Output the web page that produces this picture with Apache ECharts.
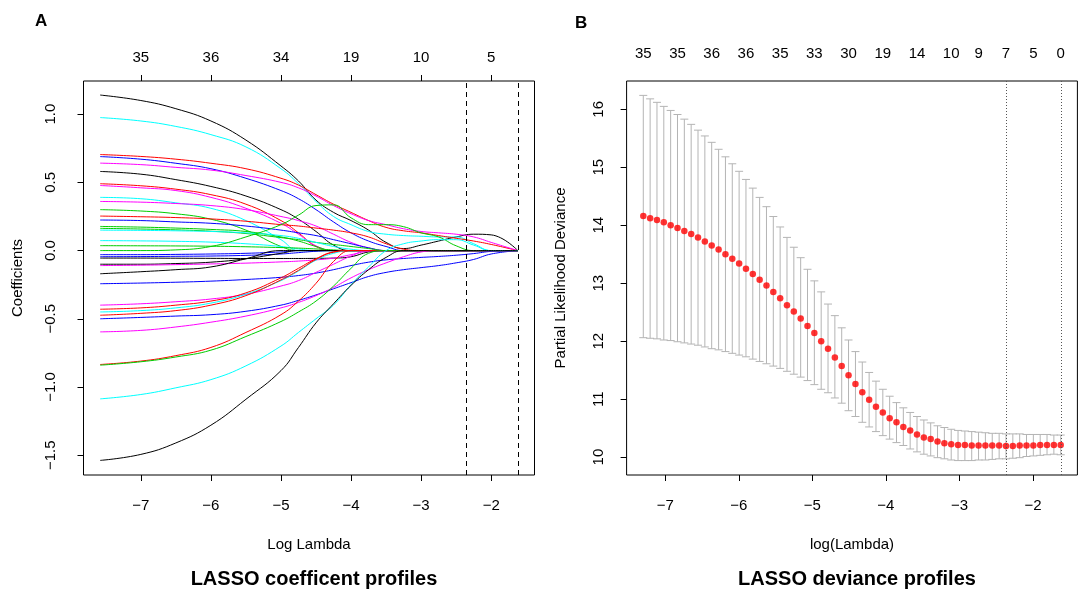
<!DOCTYPE html>
<html><head><meta charset="utf-8">
<script src="https://cdn.jsdelivr.net/npm/echarts@6/dist/echarts.min.js"></script>
<style>html,body{margin:0;padding:0;background:#fff}#c{width:1080px;height:599px}</style>
</head><body><div id="c"></div>
<script>
// ---------- Panel A: coefficient paths ----------
const coefKnots = [-7.58,-7,-6.5,-6,-5.5,-5,-4.75,-4.5,-4.25,-4,-3.75,-3.5,-3.25,-3,-2.75,-2.5,-2.25,-2,-1.62];
const coefColors = ['#000000','#00FFFF','#FF0000','#0000FF','#FF00FF','#000000','#FF0000','#FF00FF','#00FFFF','#FF00FF',
  '#00CD00','#FF0000','#0000FF','#00CD00','#00CD00','#00FFFF','#00FFFF','#00CD00','#00CD00','#0000FF',
  '#0000FF','#000000','#000000','#FF00FF','#000000','#0000FF','#0000FF','#FF00FF','#FF0000','#00FFFF',
  '#FF0000','#FF00FF','#FF0000','#00CD00','#00FFFF','#000000'];
const coefPaths = [
  [1.14,1.10,1.04,0.95,0.81,0.62,0.51,0.37,0.28,0.22,0.15,0.06,0.015,0.04,0.07,0.10,0.12,0.115,0],
  [0.975,0.95,0.91,0.85,0.76,0.60,0.49,0.36,0.25,0.19,0.14,0.12,0.11,0.105,0.10,0.10,0.05,0,0],
  [0.704,0.69,0.67,0.64,0.60,0.53,0.48,0.41,0.34,0.28,0.22,0.17,0.145,0.13,0.11,0.09,0.07,0.045,0],
  [0.689,0.67,0.64,0.60,0.53,0.44,0.38,0.30,0.21,0.13,0.07,0.03,0,0,0,0,0,0,0],
  [0.641,0.63,0.61,0.59,0.55,0.50,0.46,0.40,0.33,0.27,0.22,0.19,0.16,0.14,0.13,0.12,0.10,0.06,0],
  [0.58,0.56,0.52,0.47,0.40,0.30,0.23,0.14,0.04,0,0,0,0,0,0,0,0,0,0],
  [0.49,0.475,0.45,0.41,0.34,0.22,0.13,0.03,0,0,0,0,0,0,0,0,0,0,0],
  [0.477,0.46,0.44,0.39,0.31,0.20,0.12,0.035,0,0,0,0,0,0,0,0,0,0,0],
  [0.39,0.38,0.35,0.31,0.22,0.08,0,0,0,0,0,0,0,0,0,0,0,0,0],
  [0.36,0.355,0.345,0.33,0.30,0.25,0.22,0.18,0.12,0.06,0.02,0,0,0,0,0,0,0,0],
  [0.30,0.29,0.27,0.23,0.15,0.03,0,0,0,0,0,0,0,0,0,0,0,0,0],
  [0.253,0.248,0.242,0.232,0.215,0.19,0.18,0.165,0.15,0.13,0.10,0.05,0.01,0,0,0,0,0,0],
  [0.224,0.22,0.21,0.20,0.18,0.15,0.13,0.11,0.08,0.05,0.02,0,0,0,0,0,0,0,0],
  [0.177,0.172,0.165,0.155,0.14,0.10,0.07,0.03,0,0,0,0,0,0,0,0,0,0,0],
  [0.163,0.158,0.152,0.142,0.125,0.095,0.08,0.06,0.045,0.03,0.015,0,0,0,0,0,0,0,0],
  [0.15,0.148,0.145,0.14,0.13,0.11,0.09,0.06,0.03,0.01,0,0,0,0,0,0,0,0,0],
  [0.073,0.071,0.068,0.062,0.05,0.03,0.012,0,0,0,0,0,0,0,0,0,0,0,0],
  [0,0,0.005,0.03,0.10,0.19,0.26,0.33,0.335,0.24,0.19,0.19,0.175,0.13,0.10,0.035,0,0,0],
  [0.036,0.035,0.034,0.032,0.028,0.022,0.018,0.012,0.005,0,0,0,0,0,0,0,0,0,0],
  [-0.03,-0.03,-0.028,-0.025,-0.02,-0.01,0,0,0,0,0,0,0,0,0,0,0,0,0],
  [-0.045,-0.044,-0.042,-0.04,-0.035,-0.025,-0.015,-0.005,0,0,0,0,0,0,0,0,0,0,0],
  [-0.055,-0.055,-0.056,-0.057,-0.058,-0.058,-0.058,-0.057,-0.055,-0.045,-0.01,0,0,0,0,0,0,0,0],
  [-0.10,-0.10,-0.095,-0.085,-0.06,-0.02,0,0,0,0,0,0,0,0,0,0,0,0,0],
  [-0.11,-0.107,-0.103,-0.098,-0.092,-0.083,-0.077,-0.068,-0.055,-0.03,-0.005,0,0,0,0,0,0,0,0],
  [-0.17,-0.155,-0.14,-0.12,-0.06,0,0,0,0,0,0,0,0,0,0,0,0,0,0],
  [-0.243,-0.238,-0.232,-0.224,-0.212,-0.196,-0.183,-0.165,-0.14,-0.11,-0.085,-0.068,-0.058,-0.05,-0.043,-0.034,-0.022,-0.006,0],
  [-0.50,-0.49,-0.48,-0.47,-0.445,-0.40,-0.365,-0.325,-0.28,-0.235,-0.19,-0.16,-0.14,-0.125,-0.11,-0.09,-0.065,-0.025,0],
  [-0.40,-0.39,-0.375,-0.355,-0.32,-0.26,-0.22,-0.16,-0.10,-0.04,0,0,0,0,0,0,0,0,0],
  [-0.43,-0.42,-0.40,-0.37,-0.31,-0.20,-0.13,-0.06,-0.01,0,0,0,0,0,0,0,0,0,0],
  [-0.45,-0.44,-0.42,-0.385,-0.32,-0.22,-0.15,-0.07,-0.02,0,0,0,0,0,0,0,0,0,0],
  [-0.474,-0.46,-0.44,-0.40,-0.33,-0.215,-0.145,-0.065,-0.012,0,0,0,0,0,0,0,0,0,0],
  [-0.596,-0.585,-0.56,-0.525,-0.48,-0.42,-0.38,-0.33,-0.27,-0.20,-0.14,-0.09,-0.045,-0.01,0,0,0,0,0],
  [-0.835,-0.81,-0.77,-0.71,-0.60,-0.47,-0.37,-0.24,-0.08,0,0,0,0,0,0,0,0,0,0],
  [-0.84,-0.815,-0.78,-0.73,-0.63,-0.52,-0.45,-0.37,-0.26,-0.13,-0.02,0,0,0,0,0,0,0,0],
  [-1.087,-1.055,-1.006,-0.946,-0.845,-0.70,-0.60,-0.50,-0.40,-0.25,-0.12,0.0,0.05,0.07,0.08,0.08,0.04,0,0],
  [-1.538,-1.494,-1.41,-1.28,-1.09,-0.88,-0.71,-0.53,-0.39,-0.255,-0.14,-0.05,0,0,0,0,0,0,0]
];
const xTicksA = [-7,-6,-5,-4,-3,-2];
const topNzA = ['35','36','34','19','10','5'];
const yTicksA = [-1.5,-1,-0.5,0,0.5,1];
const cutoffsA = [-2.36,-1.62];

// ---------- Panel B: cross-validation deviance ----------
const logLambdaB = [-7.299,-7.206,-7.113,-7.020,-6.927,-6.834,-6.741,-6.648,-6.555,-6.462,
  -6.369,-6.275,-6.182,-6.089,-5.996,-5.903,-5.810,-5.717,-5.624,-5.531,
  -5.438,-5.345,-5.252,-5.159,-5.066,-4.973,-4.880,-4.787,-4.694,-4.601,
  -4.508,-4.414,-4.321,-4.228,-4.135,-4.042,-3.949,-3.856,-3.763,-3.670,
  -3.577,-3.484,-3.391,-3.298,-3.205,-3.112,-3.019,-2.926,-2.833,-2.740,
  -2.647,-2.554,-2.460,-2.367,-2.274,-2.181,-2.088,-1.995,-1.902,-1.809,
  -1.716,-1.623];
const devMean = [14.16,14.12,14.09,14.05,14.00,13.95,13.90,13.85,13.79,13.72,
  13.65,13.58,13.50,13.42,13.34,13.25,13.16,13.06,12.96,12.85,
  12.74,12.62,12.51,12.39,12.26,12.14,12.00,11.87,11.72,11.57,
  11.41,11.26,11.12,10.99,10.87,10.77,10.67,10.60,10.52,10.46,
  10.39,10.34,10.31,10.27,10.24,10.22,10.21,10.21,10.20,10.20,
  10.20,10.20,10.20,10.19,10.19,10.20,10.20,10.20,10.21,10.21,
  10.21,10.21];
const devUpper = [16.24,16.18,16.12,16.05,15.98,15.91,15.83,15.74,15.64,15.54,
  15.43,15.31,15.18,15.06,14.93,14.79,14.64,14.48,14.32,14.15,
  13.97,13.79,13.62,13.44,13.24,13.04,12.85,12.64,12.44,12.23,
  12.02,11.82,11.64,11.46,11.31,11.17,11.05,10.94,10.85,10.77,
  10.70,10.64,10.59,10.54,10.51,10.48,10.46,10.45,10.44,10.43,
  10.42,10.41,10.41,10.40,10.40,10.40,10.39,10.39,10.39,10.39,
  10.38,10.38];
const devLower = [12.06,12.05,12.04,12.02,12.01,11.99,11.97,11.95,11.93,11.90,
  11.87,11.85,11.82,11.79,11.76,11.73,11.69,11.65,11.61,11.57,
  11.53,11.48,11.43,11.38,11.32,11.25,11.17,11.11,11.02,10.93,
  10.80,10.70,10.60,10.52,10.44,10.37,10.31,10.25,10.20,10.14,
  10.09,10.05,10.02,9.99,9.97,9.95,9.94,9.94,9.94,9.95,
  9.95,9.96,9.97,9.97,9.98,9.99,10.01,10.02,10.03,10.04,
  10.05,10.04];
const nzPosB = [-7.299,-6.834,-6.369,-5.903,-5.438,-4.973,-4.508,-4.042,-3.577,-3.112,-2.740,-2.367,-1.995,-1.623];
const nzLabelsB = ['35','35','36','36','35','33','30','19','14','10','9','7','5','0'];
const xTicksB = [-7,-6,-5,-4,-3,-2];
const yTicksB = [10,11,12,13,14,15,16];
const cutoffsB = [-2.367,-1.623];

// ---------- chart ----------
const FONT = '"Liberation Sans", Arial, Helvetica, sans-serif';
const minus = s => String(s).replace('-', '\u2212');
const pick = (arr, labels) => v => { const i = arr.findIndex(a => Math.abs(a - v) < 1e-6); return i >= 0 ? labels[i] : ''; };
const tickStyle = {lineStyle:{color:'#000', width:1}, length:6};
const lab = {color:'#000', fontSize:15, fontFamily:FONT};
const noLine = {show:false, onZero:false};

const chart = echarts.init(document.getElementById('c'), null, {renderer:'canvas'});

const series = [];
coefPaths.forEach((p, k) => {
  series.push({
    type:'line', xAxisIndex:0, yAxisIndex:0, silent:true, showSymbol:false, smooth:0.45,
    data: coefKnots.map((x, j) => [x, p[j]]),
    lineStyle:{color:coefColors[k], width:1}, z:2
  });
});
series.push({
  type:'line', xAxisIndex:0, yAxisIndex:0, data:[], silent:true,
  markLine:{symbol:['none','none'], silent:true, label:{show:false},
    lineStyle:{color:'#000', width:1, type:[5,4]},
    data: cutoffsA.map(v => ({xAxis:v}))}
});
series.push({
  type:'custom', xAxisIndex:1, yAxisIndex:1, silent:true, z:2,
  data: logLambdaB.map((x, i) => [x, devLower[i], devUpper[i]]),
  encode:{x:0, y:[1,2]},
  renderItem: function(params, api){
    const lo = api.coord([api.value(0), api.value(1)]);
    const hi = api.coord([api.value(0), api.value(2)]);
    const st = {stroke:'#B4B4B4', lineWidth:1};
    const w = 4;
    return {type:'group', children:[
      {type:'line', shape:{x1:lo[0], y1:lo[1], x2:hi[0], y2:hi[1]}, style:st},
      {type:'line', shape:{x1:lo[0]-w, y1:lo[1], x2:lo[0]+w, y2:lo[1]}, style:st},
      {type:'line', shape:{x1:hi[0]-w, y1:hi[1], x2:hi[0]+w, y2:hi[1]}, style:st}
    ]};
  }
});
series.push({
  type:'scatter', xAxisIndex:1, yAxisIndex:1, silent:true, z:3,
  symbol:'circle', symbolSize:6.5,
  itemStyle:{color:'#FF0000'},
  data: logLambdaB.map((x, i) => [x, devMean[i]]),
  markLine:{symbol:['none','none'], silent:true, label:{show:false},
    lineStyle:{color:'#555', width:1, type:[1,2]},
    data: cutoffsB.map(v => ({xAxis:v}))}
});

chart.setOption({
  animation:false,
  backgroundColor:'#fff',
  textStyle:{fontFamily:FONT, color:'#000'},
  title:[
    {text:'A', left:30, top:8, textStyle:{fontSize:17, fontWeight:'bold', color:'#000', fontFamily:FONT}},
    {text:'B', left:570, top:10, textStyle:{fontSize:17, fontWeight:'bold', color:'#000', fontFamily:FONT}},
    {text:'LASSO coefficent profiles', left:309, top:564, textAlign:'center', textStyle:{fontSize:20, fontWeight:'bold', color:'#000', fontFamily:FONT}},
    {text:'LASSO deviance profiles', left:852, top:564, textAlign:'center', textStyle:{fontSize:20, fontWeight:'bold', color:'#000', fontFamily:FONT}}
  ],
  grid:[
    {left:83.5, top:81, width:451, height:394, show:true, borderColor:'#000', borderWidth:1, containLabel:false},
    {left:626.6, top:81, width:450.8, height:394, show:true, borderColor:'#000', borderWidth:1, containLabel:false}
  ],
  xAxis:[
    {gridIndex:0, type:'value', min:-7.818, max:-1.382, position:'bottom',
      axisLine:noLine, splitLine:{show:false},
      axisTick:Object.assign({customValues:xTicksA}, tickStyle),
      axisLabel:Object.assign({customValues:xTicksA, margin:23, formatter:v => minus(v)}, lab),
      name:'Log Lambda', nameLocation:'middle', nameGap:62, nameTextStyle:lab},
    {gridIndex:1, type:'value', min:-7.526, max:-1.396, position:'bottom',
      axisLine:noLine, splitLine:{show:false},
      axisTick:Object.assign({customValues:xTicksB}, tickStyle),
      axisLabel:Object.assign({customValues:xTicksB, margin:23, formatter:v => minus(v)}, lab),
      name:'log(Lambda)', nameLocation:'middle', nameGap:62, nameTextStyle:lab},
    {gridIndex:0, type:'value', min:-7.818, max:-1.382, position:'top',
      axisLine:noLine, splitLine:{show:false},
      axisTick:Object.assign({customValues:xTicksA}, tickStyle),
      axisLabel:Object.assign({customValues:xTicksA, margin:16, formatter:pick(xTicksA, topNzA)}, lab)},
    {gridIndex:1, type:'value', min:-7.526, max:-1.396, position:'top',
      axisLine:noLine, splitLine:{show:false}, axisTick:{show:false},
      axisLabel:Object.assign({customValues:nzPosB, margin:20, formatter:pick(nzPosB, nzLabelsB)}, lab)}
  ],
  yAxis:[
    {gridIndex:0, type:'value', min:-1.645, max:1.243,
      axisLine:noLine, splitLine:{show:false},
      axisTick:Object.assign({customValues:yTicksA}, tickStyle),
      axisLabel:Object.assign({customValues:yTicksA, rotate:90, margin:25, formatter:v => minus(Number(v).toFixed(1))}, lab),
      name:'Coefficients', nameLocation:'middle', nameGap:58, nameRotate:90, nameTextStyle:lab},
    {gridIndex:1, type:'value', min:9.691, max:16.488,
      axisLine:noLine, splitLine:{show:false},
      axisTick:Object.assign({customValues:yTicksB}, tickStyle),
      axisLabel:Object.assign({customValues:yTicksB, rotate:90, margin:20, formatter:v => String(v)}, lab),
      name:'Partial Likelihood Deviance', nameLocation:'middle', nameGap:58, nameRotate:90, nameTextStyle:lab}
  ],
  series: series
});
</script></body></html>
